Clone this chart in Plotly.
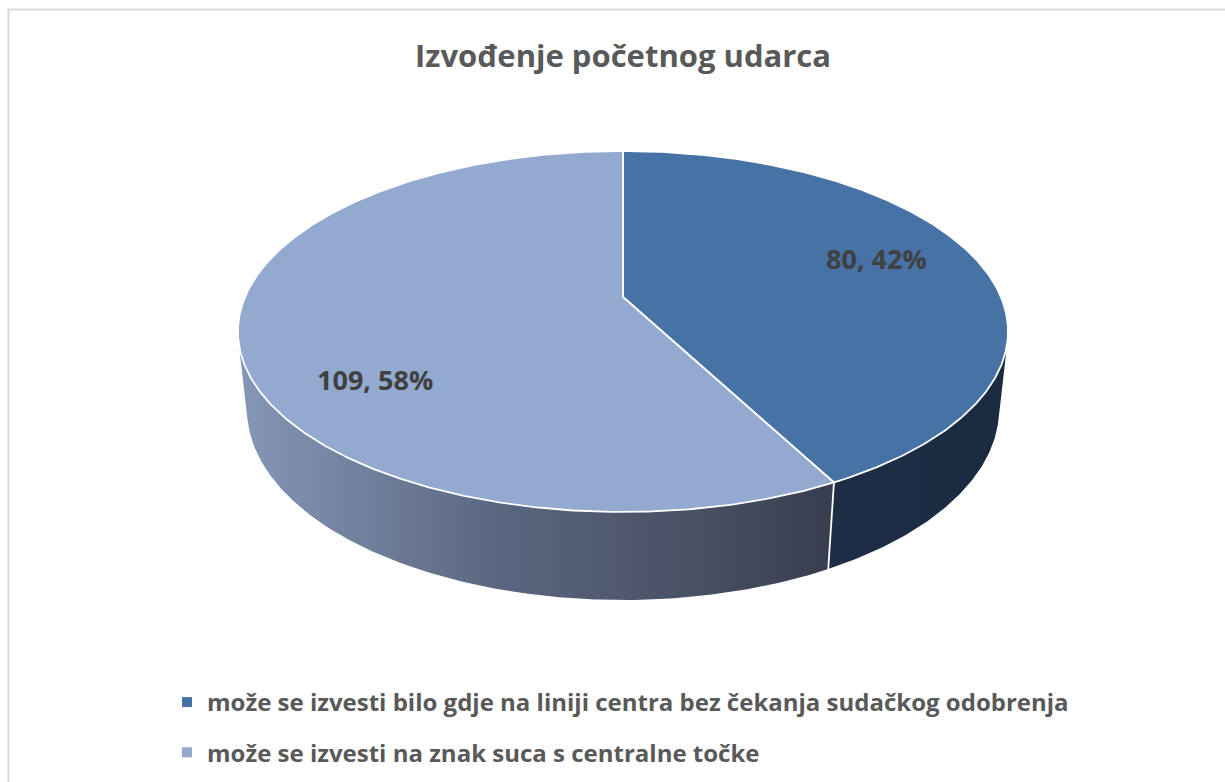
import numpy as np
import plotly.graph_objects as go

# ---------------- data ----------------
title_text = "Izvođenje početnog udarca"
categories = [
    "može se izvesti bilo gdje na liniji centra bez čekanja sudačkog odobrenja",
    "može se izvesti na znak suca s centralne točke",
]
values = [80, 109]

# ---------------- style ----------------
top_colors = ["#4672A6", "#93A9CF"]
wall_scales = [
    [[0, "#1E2E47"], [1, "#1A2A40"]],
    [[0, "#8597B7"], [0.44, "#5A6680"], [0.85, "#434A5C"], [1, "#383D4E"]],
]
label_shift = [(-9, 9), (33, -51)]
FONT = "Open Sans"

# projection parameters (virtual camera)
CX, CY = 623.0, 297.0
F = 1756.0
D = 4.646
S_A = 0.46
C_A = np.sqrt(1 - S_A ** 2)
T = 0.233


def project(x, y, z):
    X = x
    Yc = y * S_A + z * C_A
    Zc = y * C_A - z * S_A
    w = D + Zc
    return CX + F * X / w, CY - F * Yc / w


def arc(t0, t1, z, n=None):
    if n is None:
        n = max(3, int(abs(t1 - t0) / (2 * np.pi) * 720))
    th = np.linspace(t0, t1, n)
    return project(np.sin(th), np.cos(th), np.full_like(th, z))


total = sum(values)
bounds = np.concatenate([[0], np.cumsum(values)]) / total * 2 * np.pi
vis_lo = np.arccos(-1 / (D * C_A))
vis_hi = 2 * np.pi - vis_lo

fig = go.Figure()

# side walls (visible front part only)
for i in range(len(values)):
    a0, a1 = max(bounds[i], vis_lo), min(bounds[i + 1], vis_hi)
    if a1 <= a0:
        continue
    tx, ty = arc(a0, a1, 0.0)
    bx, by = arc(a1, a0, -T)
    xs = np.concatenate([tx, bx, tx[:1]])
    ys = np.concatenate([ty, by, ty[:1]])
    fig.add_trace(go.Scatter(
        x=xs, y=ys, mode="lines", fill="toself",
        line=dict(width=0, color="rgba(0,0,0,0)"),
        fillgradient=dict(type="horizontal", colorscale=wall_scales[i]),
        hoverinfo="skip", showlegend=False))

# white divider lines on the wall at slice boundaries
for b in bounds[:-1]:
    if vis_lo < b < vis_hi:
        x0, y0 = project(np.sin(b), np.cos(b), 0.0)
        x1, y1 = project(np.sin(b), np.cos(b), -T)
        fig.add_trace(go.Scatter(x=[x0, x1], y=[y0, y1], mode="lines",
                                 line=dict(color="white", width=1.8),
                                 hoverinfo="skip", showlegend=False))

# top faces
for i in range(len(values)):
    tx, ty = arc(bounds[i], bounds[i + 1], 0.0)
    cx0, cy0 = project(0.0, 0.0, 0.0)
    xs = np.concatenate([[cx0], tx, [cx0]])
    ys = np.concatenate([[cy0], ty, [cy0]])
    fig.add_trace(go.Scatter(
        x=xs, y=ys, mode="lines", fill="toself", fillcolor=top_colors[i],
        line=dict(color="white", width=1.8),
        hoverinfo="skip", showlegend=False))

# data labels
for i, v in enumerate(values):
    mid = (bounds[i] + bounds[i + 1]) / 2
    lx, ly = project(0.74 * np.sin(mid), 0.74 * np.cos(mid), 0.0)
    fig.add_annotation(x=lx, y=ly, text=f"{v}, {round(100 * v / total)}%",
                       showarrow=False, xshift=label_shift[i][0], yshift=label_shift[i][1],
                       font=dict(family=FONT, size=27, color="#404040", weight="bold"))

# legend entries
for i, name in enumerate(categories):
    fig.add_trace(go.Scatter(
        x=[None], y=[None], mode="markers", name=name, legendgroup=f"g{i}",
        marker=dict(symbol="square", size=10, color=top_colors[i])))

fig.add_shape(type="rect", xref="x", yref="y", x0=8.5, y0=9.5, x1=1300, y1=900,
              line=dict(color="#D9D9D9", width=2), fillcolor="rgba(0,0,0,0)", layer="below")

fig.update_layout(
    width=1225, height=782, autosize=False,
    margin=dict(l=0, r=0, t=0, b=0),
    paper_bgcolor="white", plot_bgcolor="white",
    xaxis=dict(range=[0, 1225], visible=False, fixedrange=True),
    yaxis=dict(range=[782, 0], visible=False, fixedrange=True),
    title=dict(text=title_text, x=623 / 1225, xanchor="center",
               yref="container", y=1 - 56 / 782, yanchor="middle",
               font=dict(family=FONT, size=31, color="#595959", weight="bold")),
    legend=dict(x=167 / 1225, xanchor="left", y=1 - 680 / 782, yanchor="top",
                font=dict(family=FONT, size=24, color="#595959", weight="bold"),
                tracegroupgap=16, bgcolor="rgba(0,0,0,0)", traceorder="grouped"),
    showlegend=True,
)

fig.write_html("out.html", config={"displayModeBar": False},
               post_script="document.body.style.margin='0';")
